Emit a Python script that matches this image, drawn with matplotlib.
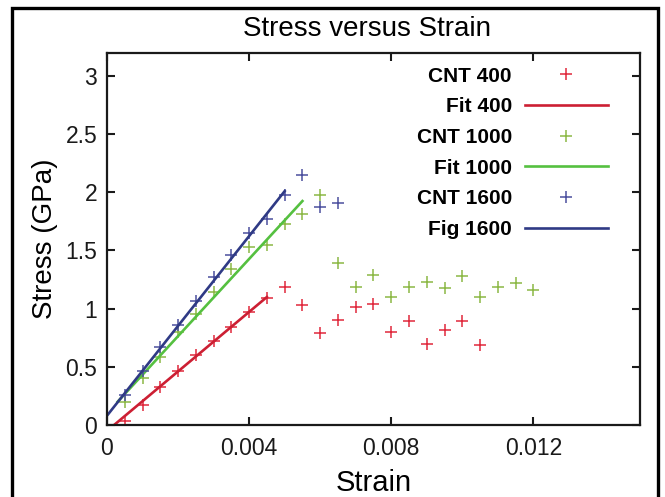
import numpy as np
import matplotlib
matplotlib.use("Agg")
import matplotlib.pyplot as plt
from matplotlib.patches import Rectangle

plt.rcParams['font.family'] = ['Liberation Sans', 'DejaVu Sans']

# strain values (data points every 0.0005)
strain_400 = [0.0005, 0.0010, 0.0015, 0.0020, 0.0025, 0.0030, 0.0035, 0.0040,
              0.0045, 0.0050, 0.0055, 0.0060, 0.0065, 0.0070, 0.0075, 0.0080,
              0.0085, 0.0090, 0.0095, 0.0100, 0.0105]
stress_400 = [0.03, 0.17, 0.33, 0.46, 0.60, 0.72, 0.84, 0.97,
              1.09, 1.19, 1.03, 0.79, 0.90, 1.01, 1.04, 0.80,
              0.89, 0.70, 0.82, 0.89, 0.69]

strain_1000 = [0.0005, 0.0010, 0.0015, 0.0020, 0.0025, 0.0030, 0.0035, 0.0040,
               0.0045, 0.0050, 0.0055, 0.0060, 0.0065, 0.0070, 0.0075, 0.0080,
               0.0085, 0.0090, 0.0095, 0.0100, 0.0105, 0.0110, 0.0115, 0.0120]
stress_1000 = [0.20, 0.40, 0.585, 0.80, 0.95, 1.14, 1.34, 1.53,
               1.55, 1.73, 1.81, 1.98, 1.39, 1.185, 1.29, 1.10,
               1.19, 1.23, 1.18, 1.285, 1.10, 1.19, 1.22, 1.16]

strain_1600 = [0.0005, 0.0010, 0.0015, 0.0020, 0.0025, 0.0030, 0.0035, 0.0040,
               0.0045, 0.0050, 0.0055, 0.0060, 0.0065]
stress_1600 = [0.26, 0.46, 0.67, 0.86, 1.07, 1.27, 1.46, 1.65,
               1.77, 1.98, 2.15, 1.87, 1.91]

# linear fits (end points)
fit_400_x = [0.0002, 0.0045]
fit_400_y = [0.0, 1.10]
fit_1000_x = [0.0003, 0.0055]
fit_1000_y = [0.20, 1.925]
fit_1600_x = [0.0, 0.0050]
fit_1600_y = [0.08, 2.01]

xticks = [0, 0.004, 0.008, 0.012]
xtick_labels = ['0', '0.004', '0.008', '0.012']
yticks = [0, 0.5, 1, 1.5, 2, 2.5, 3]
ytick_labels = ['0', '0.5', '1', '1.5', '2', '2.5', '3']

red_pt, red_ln = '#e0283c', '#cc1f33'
grn_pt, grn_ln = '#8cb845', '#55c040'
blu_pt, blu_ln = '#4b4f9e', '#2f3a85'

fig = plt.figure(figsize=(6.65, 4.97), dpi=100)
ax = fig.add_axes([0.1609, 0.1449, 0.8015, 0.749])

ms = 9
mew = 1.1
ax.plot(strain_400, stress_400, '+', color=red_pt, ms=ms, mew=mew, label='CNT 400')
ax.plot(fit_400_x, fit_400_y, '-', color=red_ln, lw=1.9, label='Fit 400')
ax.plot(strain_1000, stress_1000, '+', color=grn_pt, ms=ms, mew=mew, label='CNT 1000')
ax.plot(fit_1000_x, fit_1000_y, '-', color=grn_ln, lw=1.9, label='Fit 1000')
ax.plot(strain_1600, stress_1600, '+', color=blu_pt, ms=ms, mew=mew, label='CNT 1600')
ax.plot(fit_1600_x, fit_1600_y, '-', color=blu_ln, lw=1.9, label='Fig 1600')

ax.set_xlim(0, 0.015)
ax.set_ylim(0, 3.2)
ax.set_xticks(xticks)
ax.set_xticklabels(xtick_labels)
ax.set_yticks(yticks)
ax.set_yticklabels(ytick_labels)
ax.tick_params(direction='in', top=True, right=True, length=6, width=1.5,
               labelsize=16.5, pad=7, colors='#1a1a1a')
ax.tick_params(axis='x', pad=9)
for s in ax.spines.values():
    s.set_linewidth(1.6)
    s.set_color('#1a1a1a')

ax.set_title('Stress versus Strain', fontsize=20, pad=12, x=0.487)
ax.set_xlabel('Strain', fontsize=21, labelpad=6)
ax.set_ylabel('Stress (GPa)', fontsize=20, labelpad=5)

leg = ax.legend(loc='upper right', bbox_to_anchor=(0.9143, 0.866),
                bbox_transform=fig.transFigure, frameon=False, markerfirst=False,
                numpoints=1, handlelength=4.0, handletextpad=0.62,
                labelspacing=0.56, borderpad=0, borderaxespad=0,
                prop={'size': 15, 'weight': 'bold'})

# outer frame of the figure
fig.patches.append(Rectangle((0.018, -0.05), 0.972, 1.033, transform=fig.transFigure,
                             fill=False, lw=2.4, ec='black'))

fig.savefig('out.png', dpi=100)
